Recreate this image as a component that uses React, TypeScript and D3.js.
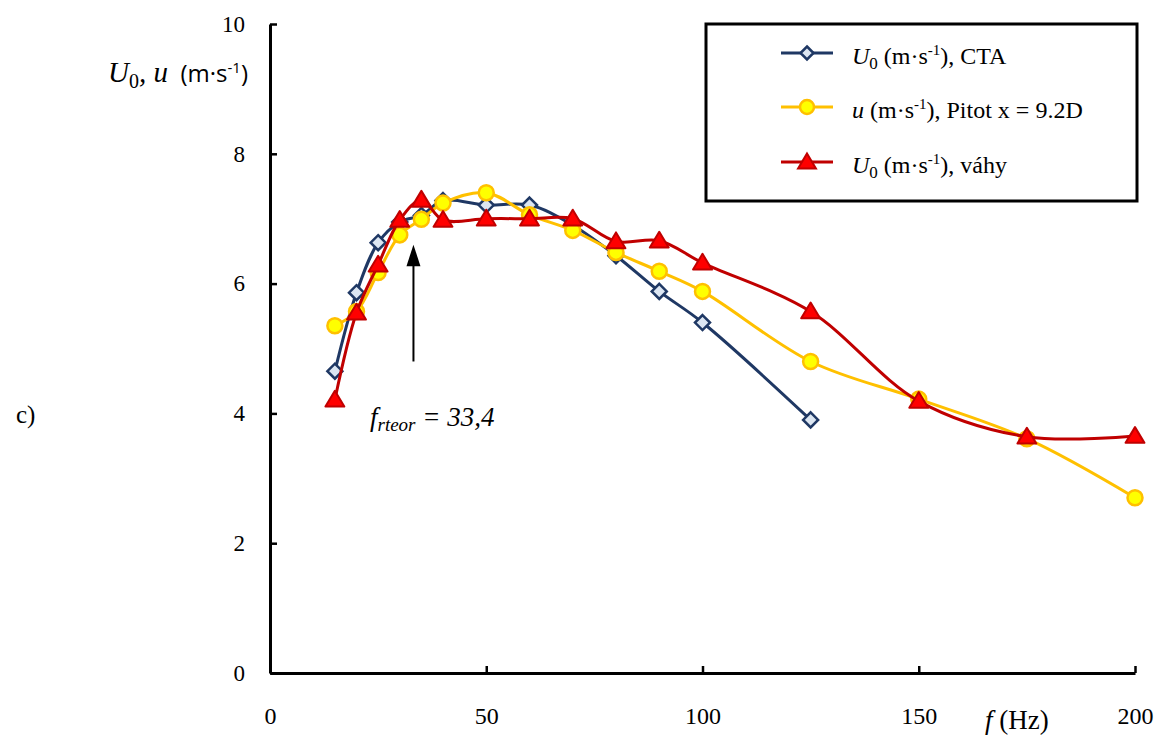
import React, { useEffect, useRef } from 'react';
import * as d3 from 'd3';

// frequency (Hz)
const freqCTA = [15, 20, 25, 30, 35, 40, 50, 60, 70, 80, 90, 100, 125];
const u0CTA = [4.65, 5.86, 6.63, 6.95, 7.05, 7.28, 7.21, 7.21, 6.9, 6.43, 5.88, 5.4, 3.9];

const freqPitot = [15, 20, 25, 30, 35, 40, 50, 60, 70, 80, 90, 100, 125, 150, 175, 200];
const uPitot = [5.35, 5.57, 6.17, 6.75, 6.99, 7.24, 7.4, 7.06, 6.82, 6.48, 6.19, 5.88, 4.8, 4.22, 3.61, 2.7];

const freqScale = [15, 20, 25, 30, 35, 40, 50, 60, 70, 80, 90, 100, 125, 150, 175, 200];
const u0Scale = [4.21, 5.55, 6.29, 6.98, 7.29, 6.98, 7.0, 7.0, 7.0, 6.65, 6.66, 6.32, 5.57, 4.19, 3.64, 3.65];

const xTicks = [0, 50, 100, 150, 200];
const yTicks = [0, 2, 4, 6, 8, 10];
const fTheor = 33.4;

const SERIF = "'Liberation Serif', 'DejaVu Serif', serif";
const SANS = "'Open Sans', 'Liberation Sans', sans-serif";

const App: React.FC = () => {
  const svgRef = useRef<SVGSVGElement>(null);

  useEffect(() => {
    if (!svgRef.current) return;
    const svg = d3.select(svgRef.current);
    svg.selectAll('*').remove();

    const x = d3.scaleLinear().domain([0, 200]).range([270, 1135]);
    const y = d3.scaleLinear().domain([0, 10]).range([673, 24]);

    // Y axis
    const yAxis = svg.append('g')
      .attr('transform', `translate(${x(0)},0)`)
      .call(d3.axisLeft(y).tickValues(yTicks).tickSizeInner(-7).tickSizeOuter(0).tickPadding(25).tickFormat(d3.format('d')));
    yAxis.attr('font-family', SERIF).attr('font-size', 23);
    yAxis.select('.domain').attr('stroke', '#000').attr('stroke-width', 3);
    yAxis.selectAll('.tick line').attr('stroke', '#000').attr('stroke-width', 2.5);
    yAxis.selectAll('.tick text').attr('fill', '#000');

    // X axis
    const xAxis = svg.append('g')
      .attr('transform', `translate(0,${y(0)})`)
      .call(d3.axisBottom(x).tickValues(xTicks).tickSizeInner(-7).tickSizeOuter(0).tickPadding(34).tickFormat(d3.format('d')));
    xAxis.attr('font-family', SERIF).attr('font-size', 24);
    xAxis.select('.domain').attr('stroke', '#000').attr('stroke-width', 3);
    xAxis.selectAll('.tick line').attr('stroke', '#000').attr('stroke-width', 2.5);
    xAxis.selectAll('.tick text').attr('fill', '#000');

    // axis titles
    const yl = svg.append('text').attr('x', 248).attr('y', 82).attr('text-anchor', 'end').attr('fill', '#000');
    yl.append('tspan').attr('font-family', SERIF).attr('font-style', 'italic').attr('font-size', 29).text('U');
    yl.append('tspan').attr('font-family', SERIF).attr('font-size', 20).attr('dy', 6).text('0');
    yl.append('tspan').attr('font-family', SERIF).attr('font-style', 'italic').attr('font-size', 29).attr('dy', -6).text(', u');
    yl.append('tspan').attr('font-family', SANS).attr('font-size', 24).text('\u00a0\u00a0(m·s');
    yl.append('tspan').attr('font-family', SANS).attr('font-size', 15).attr('dy', -9).text('-1');
    yl.append('tspan').attr('font-family', SANS).attr('font-size', 24).attr('dy', 9).text(')');

    const xl = svg.append('text').attr('x', 985).attr('y', 729).attr('font-family', SERIF).attr('font-size', 27).attr('fill', '#000');
    xl.append('tspan').attr('font-style', 'italic').text('f');
    xl.append('tspan').text(' (Hz)');

    svg.append('text').attr('x', 16).attr('y', 423).attr('font-family', SERIF).attr('font-size', 25).attr('fill', '#000').text('c)');

    // arrow annotation
    const ax = x(fTheor) - 1;
    svg.append('line').attr('x1', ax).attr('x2', ax).attr('y1', y(4.8)).attr('y2', y(6.3))
      .attr('stroke', '#000').attr('stroke-width', 2);
    svg.append('path')
      .attr('d', `M${ax},${y(6.6)} L${ax - 7},${y(6.3) + 2} L${ax + 7},${y(6.3) + 2} Z`)
      .attr('fill', '#000');
    const ann = svg.append('text').attr('x', 370).attr('y', 426).attr('font-family', SERIF).attr('font-style', 'italic').attr('font-size', 27).attr('fill', '#000');
    ann.append('tspan').text('f');
    ann.append('tspan').attr('font-size', 19).attr('dy', 5).text('rteor');
    ann.append('tspan').attr('dy', -5).text(' = 33,4');

    const line = d3.line<[number, number]>()
      .x(d => x(d[0]))
      .y(d => y(d[1]))
      .curve(d3.curveCatmullRom.alpha(0.5));

    const diamond = (cx: number, cy: number, r: number) => `M${cx},${cy - r} L${cx + r},${cy} L${cx},${cy + r} L${cx - r},${cy} Z`;
    const triangle = (cx: number, cy: number, r: number) => `M${cx},${cy - r} L${cx + r * 1.05},${cy + r * 0.75} L${cx - r * 1.05},${cy + r * 0.75} Z`;

    // CTA
    const cta = d3.zip(freqCTA, u0CTA) as [number, number][];
    svg.append('path').attr('d', line(cta)).attr('fill', 'none').attr('stroke', '#1f3864').attr('stroke-width', 3);
    svg.append('g').selectAll('path').data(cta).join('path')
      .attr('d', d => diamond(x(d[0]), y(d[1]), 7.5))
      .attr('fill', '#dce6f2').attr('stroke', '#1f3864').attr('stroke-width', 2.5);

    // Pitot
    const pit = d3.zip(freqPitot, uPitot) as [number, number][];
    svg.append('path').attr('d', line(pit)).attr('fill', 'none').attr('stroke', '#ffc000').attr('stroke-width', 3);
    svg.append('g').selectAll('circle').data(pit).join('circle')
      .attr('cx', d => x(d[0])).attr('cy', d => y(d[1])).attr('r', 7.5)
      .attr('fill', '#ffff00').attr('stroke', '#ffc000').attr('stroke-width', 2.5);

    // scale (vahy)
    const vah = d3.zip(freqScale, u0Scale) as [number, number][];
    svg.append('path').attr('d', line(vah)).attr('fill', 'none').attr('stroke', '#c00000').attr('stroke-width', 3);
    svg.append('g').selectAll('path').data(vah).join('path')
      .attr('d', d => triangle(x(d[0]), y(d[1]), 9))
      .attr('fill', '#ff0000').attr('stroke', '#c00000').attr('stroke-width', 2).attr('stroke-linejoin', 'round');

    // legend
    const lg = svg.append('g');
    lg.append('rect').attr('x', 706).attr('y', 24).attr('width', 431).attr('height', 177)
      .attr('fill', '#fff').attr('stroke', '#000').attr('stroke-width', 3);
    const rows = [
      { yy: 57, color: '#1f3864', kind: 'd', sym: 'U', sub: '0', rest: ', CTA' },
      { yy: 111, color: '#ffc000', kind: 'c', sym: 'u', sub: '', rest: ', Pitot x = 9.2D' },
      { yy: 166, color: '#c00000', kind: 't', sym: 'U', sub: '0', rest: ', váhy' },
    ];
    rows.forEach(r => {
      lg.append('line').attr('x1', 781).attr('x2', 833).attr('y1', r.yy - 4).attr('y2', r.yy - 4)
        .attr('stroke', r.color).attr('stroke-width', 3);
      if (r.kind === 'd') {
        lg.append('path').attr('d', diamond(807, r.yy - 4, 6.5)).attr('fill', '#dce6f2').attr('stroke', '#1f3864').attr('stroke-width', 2.5);
      } else if (r.kind === 'c') {
        lg.append('circle').attr('cx', 807).attr('cy', r.yy - 4).attr('r', 7).attr('fill', '#ffff00').attr('stroke', '#ffc000').attr('stroke-width', 2.5);
      } else {
        lg.append('path').attr('d', triangle(807, r.yy - 4, 8.5)).attr('fill', '#ff0000').attr('stroke', '#c00000').attr('stroke-width', 2);
      }
      const t = lg.append('text').attr('x', 852).attr('y', r.yy + 7).attr('font-family', SERIF).attr('font-size', 24).attr('fill', '#000');
      t.append('tspan').attr('font-style', 'italic').text(r.sym);
      if (r.sub) t.append('tspan').attr('font-size', 17).attr('dy', 5).text(r.sub);
      t.append('tspan').attr('dy', r.sub ? -5 : 0).text(' (m·s');
      t.append('tspan').attr('font-size', 15).attr('dy', -9).text('-1');
      t.append('tspan').attr('dy', 9).text(')' + r.rest);
    });
  }, []);

  return (
    <svg
      ref={svgRef}
      width={1160}
      height={739}
      style={{ position: 'absolute', left: 0, top: 0, background: '#fff', display: 'block' }}
    />
  );
};

export default App;
